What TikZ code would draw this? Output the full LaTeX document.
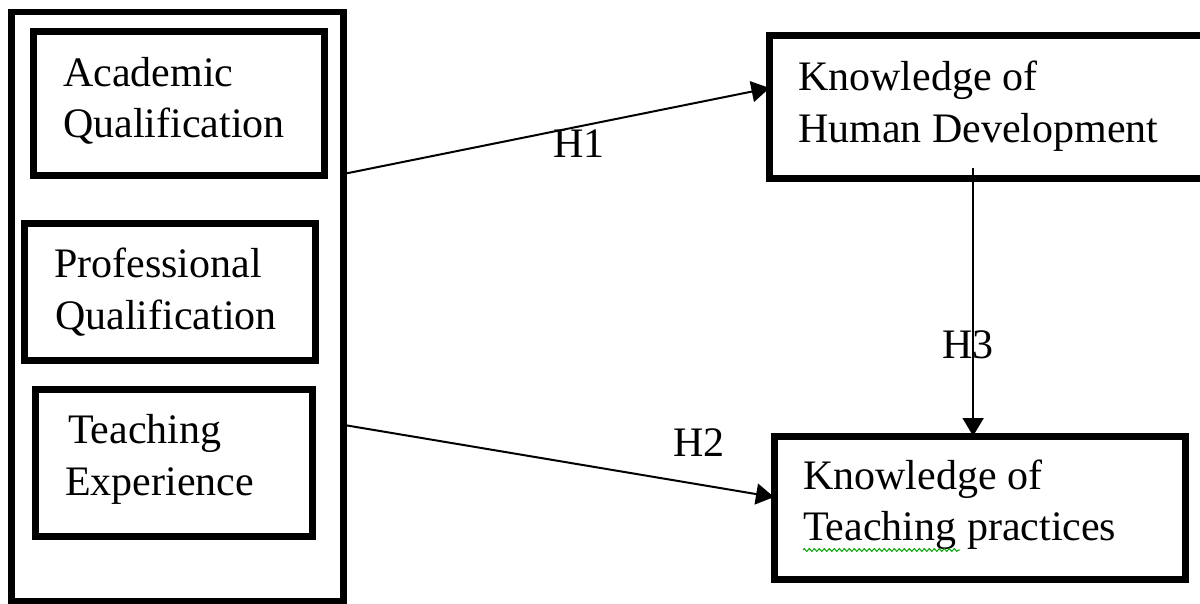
\documentclass[tikz,border=0pt]{standalone}
\usepackage{fontspec}
\setmainfont{Liberation Serif}
\usetikzlibrary{arrows.meta,calc,decorations.pathmorphing}

\begin{document}
\begin{tikzpicture}[x=1pt,y=-1pt,
  frame/.style={draw, line width=6.5pt, inner sep=0pt, outer sep=0pt},
  varbox/.style={draw, line width=7pt, inner sep=0pt, outer sep=0pt},
  txt/.style={anchor=base west, inner sep=0pt, font=\fontsize{42}{50}\selectfont},
  link/.style={line width=2pt, -{Triangle[length=18pt,width=21pt]}},
  squiggle/.style={draw=green!65!black, line width=1pt,
    decorate, decoration={zigzag, segment length=5pt, amplitude=1.4pt}}
]
\useasboundingbox (0,0) rectangle (1200,604);
\clip (0,0) rectangle (1200,604);

% group of teacher characteristics
\node[frame, minimum width=332pt, minimum height=589pt] (group) at (177.5,306.5) {};
\node[varbox, minimum width=290.5pt, minimum height=144.5pt] (acad) at (178.75,103.75) {};
\node[varbox, minimum width=291pt, minimum height=136.5pt] (prof) at (170,292.25) {};
\node[varbox, minimum width=277pt, minimum height=147pt] (teach) at (174,462.5) {};

\node[txt] (acad1) at (63,87) {Academic};
\node[txt] (acad2) at (63,138) {Qualification};
\node[txt] (prof1) at (54,278) {Professional};
\node[txt] (prof2) at (55,330) {Qualification};
\node[txt] (teach1) at (68,443) {Teaching};
\node[txt] (teach2) at (65,495) {Experience};

% outcome boxes
\node[varbox, minimum width=436pt, minimum height=143.5pt] (khd) at (987.5,107.25) {};
\node[varbox, minimum width=411pt, minimum height=143pt] (ktp) at (979.5,507.5) {};

\node[txt] (khd1) at (798,91) {Knowledge of};
\node[txt] (khd2) at (798,143) {Human Development};
\node[txt] (ktp1) at (803,489) {Knowledge of};
\node[txt] (ktp2) at (803,540) {Teaching practices};

% spell-check underline
\coordinate (sqA) at (803,550);
\coordinate (sqB) at (960,550);
\draw[squiggle] (sqA) -- (sqB);

% hypotheses
\draw[link] ($(group.north east)!0.275!(group.south east)$)
  -- ($(khd.north west)!0.366!(khd.south west)$);
\draw[link] ($(group.north east)!0.701!(group.south east)$)
  -- ($(ktp.north west)!0.427!(ktp.south west)$);
\coordinate (h3top) at ($(khd.south west)!0.467!(khd.south east)+(0,-11)$);
\draw[link] (h3top) -- (h3top |- ktp.north);

\node[txt] (h1) at (553,158) {H1};
\node[txt] (h2) at (673,456) {H2};
\node[txt] (h3) at (942,358) {H3};
\end{tikzpicture}
\end{document}
